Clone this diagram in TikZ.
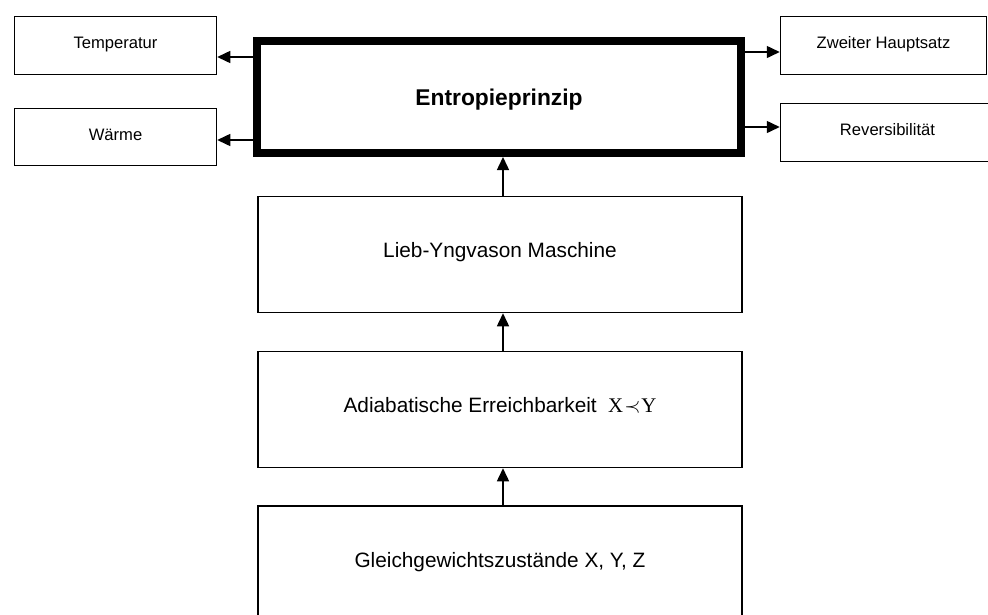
\documentclass[tikz,border=0pt]{standalone}
\usepackage{fontspec}
\setmainfont{Liberation Serif}
\setsansfont{Liberation Sans}
\usetikzlibrary{arrows.meta}
\begin{document}
\begin{tikzpicture}[x=1pt,y=-1pt,
  box/.style={draw=black, line width=1.5pt, rectangle, inner sep=0pt,
    font=\sffamily\fontsize{20.8}{24}\selectfont, text height=15pt, text depth=9pt},
  sbox/.style={box, font=\sffamily\fontsize{16.6}{20}\selectfont, text height=12pt, text depth=5.1pt},
  bigbox/.style={draw=black, line width=8pt, rectangle, inner sep=0pt,
    font=\sffamily\bfseries\fontsize{22.8}{26}\selectfont, text height=16.3pt, text depth=0pt},
  arr/.style={line width=1.5pt, -{Triangle[length=13pt,width=12pt]}}]
\useasboundingbox (0,0) rectangle (988,614);
\clip (0,0) rectangle (988,614);
\node[sbox, minimum width=202pt, minimum height=58pt] (T) at (115.5,45.5) {Temperatur};
\node[sbox, minimum width=202pt, minimum height=57pt] (W) at (115.5,137) {Wärme};
\node[sbox, minimum width=206pt, minimum height=58pt] (Z) at (883.5,45.5) {Zweiter Hauptsatz};
\node[sbox, minimum width=214pt, minimum height=58pt, text width=206pt, align=center] (R) at (887.5,132.5) {Reversibilität};
\node[bigbox, minimum width=484pt, minimum height=112pt] (E) at (499,97) {Entropieprinzip};
\node[box, minimum width=484pt, minimum height=116pt] (L) at (500,254.5) {Lieb-Yngvason Maschine};
\node[box, minimum width=484pt, minimum height=116pt] (A) at (500,409.5) {Adiabatische Erreichbarkeit\hspace{0.55em}{\rmfamily X}\kern1pt$\prec$\kern1pt{\rmfamily Y}};
\node[box, minimum width=484pt, minimum height=116pt] (G) at (500,564) {Gleichgewichtszustände X, Y, Z};
% connectors
\coordinate (tT) at ([yshift=-11.5pt]T.east);
\coordinate (tW) at ([yshift=-3pt]W.east);
\coordinate (tZ) at ([yshift=-6.5pt]Z.west);
\coordinate (tR) at ([yshift=5.5pt]R.west);
\draw[arr] (E.west |- tT) -- (tT);
\draw[arr] (E.west |- tW) -- (tW);
\draw[arr] (E.east |- tZ) -- (tZ);
\draw[arr] (E.east |- tR) -- (tR);
\draw[arr] ([xshift=3pt]L.north) -- ([xshift=3pt]L.north |- E.south);
\draw[arr] ([xshift=3pt]A.north) -- ([xshift=3pt]A.north |- L.south);
\draw[arr] ([xshift=3pt]G.north) -- ([xshift=3pt]G.north |- A.south);
\end{tikzpicture}
\end{document}
